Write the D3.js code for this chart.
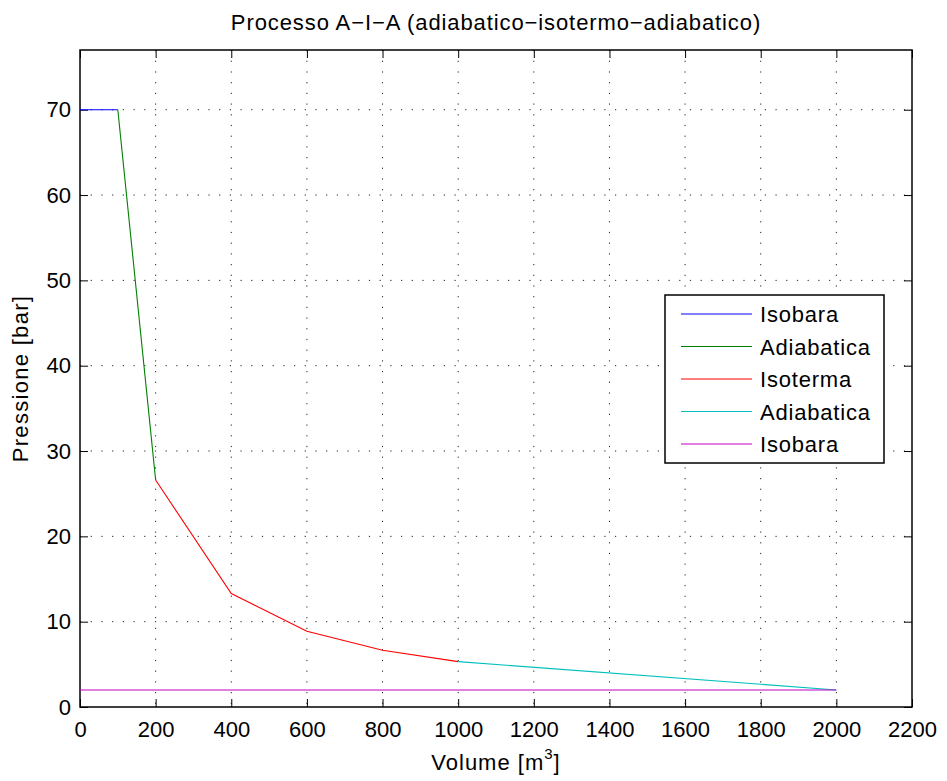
<!DOCTYPE html>
<html>
<head>
<meta charset="utf-8">
<script src="https://cdn.jsdelivr.net/npm/d3@7"></script>
<style>
  body { margin: 0; background: #fff; }
  text { font-family: "Liberation Sans", Arial, sans-serif; fill: #000; }
</style>
</head>
<body>
<div id="viz"></div>
<script>
const xTicks = [0, 200, 400, 600, 800, 1000, 1200, 1400, 1600, 1800, 2000, 2200];
const yTicks = [0, 10, 20, 30, 40, 50, 60, 70];

const isobara1 = [[0, 70], [100, 70]];
const adiabatica1 = [[100, 70], [200, 26.6]];
const isoterma = [[200, 26.6], [400, 13.3], [600, 8.87], [800, 6.65], [1000, 5.32]];
const adiabatica2 = [[1000, 5.32], [2000, 2.0]];
const isobara2 = [[0, 2.0], [2000, 2.0]];

const seriesNames = ["Isobara", "Adiabatica", "Isoterma", "Adiabatica", "Isobara"];
const seriesColors = ["#0000ff", "#008000", "#ff0000", "#00bfbf", "#bf00bf"];
const seriesData = [isobara1, adiabatica1, isoterma, adiabatica2, isobara2];

const W = 947, H = 781;
const margin = {top: 50, right: 35, bottom: 74, left: 80};
const width = W - margin.left - margin.right;
const height = H - margin.top - margin.bottom;

const svg = d3.select("#viz").append("svg")
  .attr("width", W)
  .attr("height", H);

const g = svg.append("g")
  .attr("transform", `translate(${margin.left},${margin.top})`);

const x = d3.scaleLinear().domain([0, 2200]).range([0, width]);
const y = d3.scaleLinear().domain([0, 77]).range([height, 0]);

// dotted grid
g.selectAll(".gx").data(xTicks.slice(1, -1)).join("line")
  .attr("x1", d => x(d)).attr("x2", d => x(d))
  .attr("y1", 0).attr("y2", height)
  .attr("stroke", "#222").attr("stroke-width", 1)
  .attr("stroke-dasharray", "1.2,9.5");
g.selectAll(".gy").data(yTicks.slice(1)).join("line")
  .attr("x1", 0).attr("x2", width)
  .attr("y1", d => y(d)).attr("y2", d => y(d))
  .attr("stroke", "#222").attr("stroke-width", 1)
  .attr("stroke-dasharray", "1.2,9.5");

// axes with inward ticks
const tick = 8;
const fmt = d3.format("d");
g.append("g")
  .attr("transform", `translate(0,${height})`)
  .call(d3.axisBottom(x).tickValues(xTicks).tickFormat(fmt).tickSizeInner(-tick).tickSizeOuter(0).tickPadding(14))
  .call(a => a.select(".domain").remove())
  .selectAll("text").style("font-size", "22px");
g.append("g")
  .call(d3.axisTop(x).tickValues(xTicks).tickSizeInner(-tick).tickSizeOuter(0).tickFormat(""))
  .call(a => a.select(".domain").remove());
g.append("g")
  .call(d3.axisLeft(y).tickValues(yTicks).tickFormat(fmt).tickSizeInner(-tick).tickSizeOuter(0).tickPadding(9))
  .call(a => a.select(".domain").remove())
  .selectAll("text").style("font-size", "22px");
g.append("g")
  .attr("transform", `translate(${width},0)`)
  .call(d3.axisRight(y).tickValues(yTicks).tickSizeInner(-tick).tickSizeOuter(0).tickFormat(""))
  .call(a => a.select(".domain").remove());

g.append("rect")
  .attr("width", width).attr("height", height)
  .attr("fill", "none").attr("stroke", "#000").attr("stroke-width", 1.5);

// series
const line = d3.line().x(d => x(d[0])).y(d => y(d[1]));
seriesData.forEach((s, i) => {
  g.append("path")
    .datum(s)
    .attr("d", line)
    .attr("fill", "none")
    .attr("stroke", seriesColors[i])
    .attr("stroke-width", 1.1);
});

// legend
const legend = g.append("g")
  .attr("transform", `translate(${665 - margin.left},${295 - margin.top})`);
legend.append("rect")
  .attr("width", 219).attr("height", 168)
  .attr("fill", "#fff").attr("stroke", "#000").attr("stroke-width", 1.5);
seriesNames.forEach((name, i) => {
  const ly = 19 + i * 32.5;
  legend.append("line")
    .attr("x1", 16).attr("x2", 87)
    .attr("y1", ly).attr("y2", ly)
    .attr("stroke", seriesColors[i]).attr("stroke-width", 1.1);
  legend.append("text")
    .attr("x", 95).attr("y", ly + 8)
    .style("font-size", "22px")
    .style("letter-spacing", "0.8px")
    .text(name);
});

// title and axis labels
svg.append("text")
  .attr("x", margin.left + width / 2).attr("y", 30)
  .attr("text-anchor", "middle")
  .style("font-size", "22px")
  .style("letter-spacing", "0.9px")
  .text("Processo A\u2212I\u2212A (adiabatico\u2212isotermo\u2212adiabatico)");

const xl = svg.append("text")
  .attr("x", margin.left + width / 2).attr("y", 770)
  .attr("text-anchor", "middle")
  .style("font-size", "22px")
  .style("letter-spacing", "1px");
xl.append("tspan").text("Volume [m");
xl.append("tspan").attr("dy", -11).style("font-size", "15px").text("3");
xl.append("tspan").attr("dy", 11).text("]");

svg.append("text")
  .attr("transform", `translate(28,${margin.top + height / 2}) rotate(-90)`)
  .attr("text-anchor", "middle")
  .style("font-size", "22px")
  .style("letter-spacing", "1.3px")
  .text("Pressione [bar]");
</script>
</body>
</html>
